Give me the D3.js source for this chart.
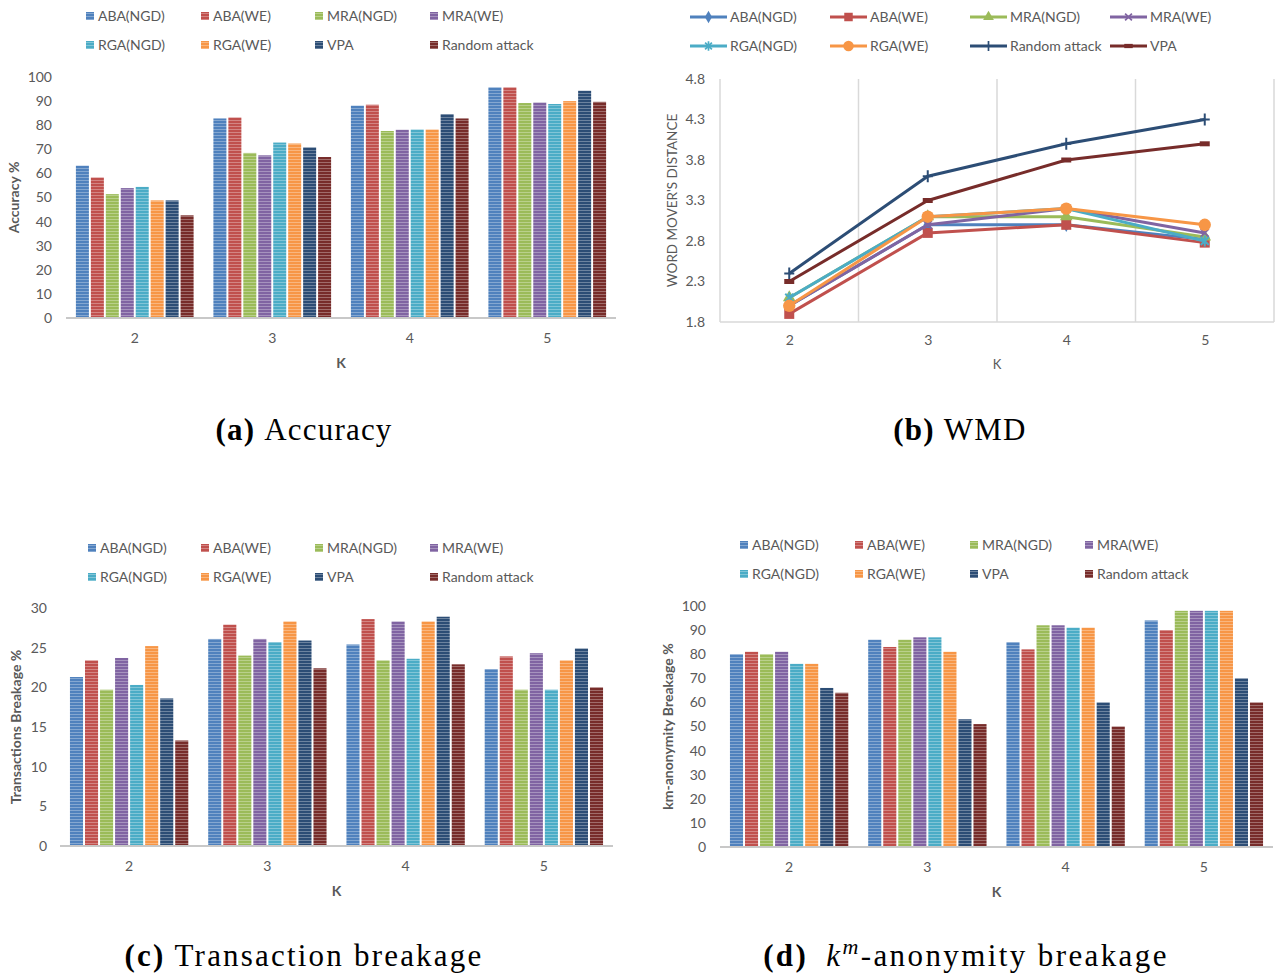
<!DOCTYPE html>
<html lang="en">
<head>
<meta charset="UTF-8">
<title>Attack evaluation over K</title>
<script src="https://d3js.org/d3.v7.min.js"></script>
<style>
  body { margin: 0; background: #fff; }
  svg { display: block; }
  text { font-family: Lato, "Open Sans", sans-serif; fill: #595959; }
  .tick-label { font-size: 14px; }
  .legend-label { font-size: 14px; }
  .axis-title { font-size: 14px; font-weight: bold; }
  .caption { font-family: "Liberation Serif", serif; fill: #000; font-size: 31px; letter-spacing: 1.2px; }
</style>
</head>
<body>
<svg id="chart" width="1277" height="975"></svg>
<script>
// ---- data ----
const kValues = ["2", "3", "4", "5"];
const barSeries = ["ABA(NGD)", "ABA(WE)", "MRA(NGD)", "MRA(WE)", "RGA(NGD)", "RGA(WE)", "VPA", "Random attack"];
const lineSeries = ["ABA(NGD)", "ABA(WE)", "MRA(NGD)", "MRA(WE)", "RGA(NGD)", "RGA(WE)", "Random attack", "VPA"];
const seriesColors = ["#4f81bd", "#c0504d", "#9bbb59", "#8064a2", "#4bacc6", "#f79646", "#2c4d75", "#772c2a"];

// one row per series (barSeries order), values for K = 2,3,4,5
const accuracy = [
  [63.2, 82.8, 88.1, 95.7],
  [58.3, 83.2, 88.5, 95.7],
  [51.4, 68.5, 77.6, 89.2],
  [53.9, 67.5, 78.1, 89.4],
  [54.4, 72.8, 78.2, 88.8],
  [48.8, 72.4, 78.2, 90.0],
  [48.8, 70.8, 84.6, 94.3],
  [42.6, 66.8, 82.8, 89.7]
];
const transactionBreakage = [
  [21.3, 26.1, 25.4, 22.3],
  [23.4, 27.9, 28.6, 23.9],
  [19.7, 24.0, 23.4, 19.7],
  [23.7, 26.1, 28.3, 24.3],
  [20.3, 25.7, 23.6, 19.7],
  [25.2, 28.3, 28.3, 23.4],
  [18.6, 25.9, 28.9, 24.9],
  [13.3, 22.4, 22.9, 20.0]
];
const kmBreakage = [
  [80, 86, 85, 94],
  [81, 83, 82, 90],
  [80, 86, 92, 98],
  [81, 87, 92, 98],
  [76, 87, 91, 98],
  [76, 81, 91, 98],
  [66, 53, 60, 70],
  [64, 51, 50, 60]
];
// one row per series (lineSeries order)
const wmd = [
  [2.0, 3.0, 3.0, 2.82],
  [1.9, 2.9, 3.0, 2.78],
  [2.1, 3.1, 3.1, 2.85],
  [2.0, 3.0, 3.2, 2.9],
  [2.1, 3.1, 3.2, 2.8],
  [2.0, 3.1, 3.2, 3.0],
  [2.4, 3.6, 4.0, 4.3],
  [2.3, 3.3, 3.8, 4.0]
];
const wmdTicks = [1.8, 2.3, 2.8, 3.3, 3.8, 4.3, 4.8];

const svg = d3.select("#chart");
const defs = svg.append("defs");

// striped fill like the original excel texture
seriesColors.forEach((c, i) => {
  const p = defs.append("pattern")
    .attr("id", "stripe" + i)
    .attr("patternUnits", "userSpaceOnUse")
    .attr("width", 4).attr("height", 3);
  p.append("rect").attr("width", 4).attr("height", 3).attr("fill", c);
  p.append("rect").attr("width", 4).attr("height", 1).attr("fill", "#fff").attr("opacity", 0.3);
});

function drawBarPanel(cfg) {
  const g = svg.append("g");
  const x0 = d3.scaleBand().domain(kValues).range([cfg.left, cfg.right])
    .paddingInner(0.144).paddingOuter(0.072);
  const x1 = d3.scaleBand().domain(barSeries).range([0, x0.bandwidth()]).paddingInner(0.13);
  const y = d3.scaleLinear().domain([0, cfg.max]).range([cfg.bottom, cfg.top]);

  barSeries.forEach((s, i) => {
    g.selectAll(null)
      .data(cfg.values[i])
      .join("rect")
      .attr("x", (d, j) => x0(kValues[j]) + x1(s))
      .attr("y", d => y(d))
      .attr("width", x1.bandwidth())
      .attr("height", d => y(0) - y(d))
      .attr("fill", `url(#stripe${i})`);
  });

  g.append("line")
    .attr("x1", cfg.left).attr("x2", cfg.right)
    .attr("y1", y(0)).attr("y2", y(0))
    .attr("stroke", "#c8c8c8").attr("stroke-width", 2);

  g.append("g")
    .attr("transform", `translate(${cfg.labelRight},0)`)
    .call(d3.axisLeft(y).tickValues(d3.range(0, cfg.max + 1, cfg.step)).tickSize(0).tickPadding(0))
    .call(a => a.select(".domain").remove())
    .selectAll("text").attr("class", "tick-label");

  g.append("g")
    .attr("transform", `translate(0,${y(0)})`)
    .call(d3.axisBottom(x0).tickSize(0).tickPadding(15))
    .call(a => a.select(".domain").remove())
    .selectAll("text").attr("class", "tick-label");

  g.append("text")
    .attr("class", "axis-title")
    .attr("x", (cfg.left + cfg.right) / 2)
    .attr("y", y(0) + 50)
    .attr("text-anchor", "middle")
    .text("K");

  g.append("text")
    .attr("class", "axis-title")
    .attr("transform", `translate(${cfg.titleX},${(cfg.top + cfg.bottom) / 2}) rotate(-90)`)
    .attr("text-anchor", "middle")
    .attr("dy", "0.35em")
    .text(cfg.title);

  // legend, 4 columns x 2 rows
  const leg = g.selectAll(".leg")
    .data(barSeries)
    .join("g")
    .attr("transform", (d, i) => `translate(${cfg.legendX[i % 4]},${cfg.legendY[Math.floor(i / 4)]})`);
  leg.append("rect")
    .attr("x", 0).attr("y", -4).attr("width", 8).attr("height", 8)
    .attr("fill", (d, i) => `url(#stripe${i})`);
  leg.append("text")
    .attr("class", "legend-label")
    .attr("x", 12).attr("dy", "0.36em")
    .text(d => d);
}

drawBarPanel({
  values: accuracy, max: 100, step: 10,
  left: 66, right: 616, top: 77, bottom: 318,
  labelRight: 52, titleX: 14, title: "Accuracy %",
  legendX: [86, 201, 315, 430], legendY: [16, 45]
});

drawBarPanel({
  values: transactionBreakage, max: 30, step: 5,
  left: 60, right: 613, top: 608, bottom: 846,
  labelRight: 47, titleX: 16, title: "Transactions Breakage %",
  legendX: [88, 201, 315, 430], legendY: [548, 577]
});

drawBarPanel({
  values: kmBreakage, max: 100, step: 10,
  left: 720, right: 1273, top: 606, bottom: 847,
  labelRight: 706, titleX: 668, title: "km-anonymity Breakage %",
  legendX: [740, 855, 970, 1085], legendY: [545, 574]
});

// ---- WMD line chart ----
const markerPaths = [
  { d: d3.symbol(d3.symbolDiamond, 60)(), fill: true },
  { d: d3.symbol(d3.symbolSquare, 100)(), fill: true },
  { d: d3.symbol(d3.symbolTriangle, 70)(), fill: true },
  { d: "M-4,-4L4,4M-4,4L4,-4", fill: false },
  { d: "M-4,-4L4,4M-4,4L4,-4M0,-5.5V5.5", fill: false },
  { d: d3.symbol(d3.symbolCircle, 120)(), fill: true },
  { d: "M-5,0H5M0,-6V6", fill: false },
  { d: "M-5,-2.5H5V2.5H-5Z", fill: true }
];

function addMarker(sel, i) {
  const m = markerPaths[i];
  sel.append("path")
    .attr("d", m.d)
    .attr("fill", m.fill ? seriesColors[i] : "none")
    .attr("stroke", seriesColors[i])
    .attr("stroke-width", m.fill ? 0 : 2);
}

(function drawLinePanel() {
  const g = svg.append("g");
  const left = 720, right = 1274, top = 79, bottom = 322;
  const xb = d3.scaleBand().domain(kValues).range([left, right]);
  const x = d3.scalePoint().domain(kValues).range([left, right]).padding(0.5);
  const y = d3.scaleLinear().domain([1.8, 4.8]).range([bottom, top]);

  // vertical gridlines at category boundaries
  const bounds = [left].concat(kValues.map(k => xb(k) + xb.bandwidth()));
  g.selectAll(".grid")
    .data(bounds)
    .join("line")
    .attr("x1", d => d).attr("x2", d => d)
    .attr("y1", top).attr("y2", bottom)
    .attr("stroke", "#d9d9d9").attr("stroke-width", 1.5);

  g.append("line")
    .attr("x1", left).attr("x2", right)
    .attr("y1", bottom).attr("y2", bottom)
    .attr("stroke", "#d9d9d9").attr("stroke-width", 1.5);

  g.append("g")
    .attr("transform", "translate(705,0)")
    .call(d3.axisLeft(y).tickValues(wmdTicks).tickFormat(d3.format(".1f")).tickSize(0).tickPadding(0))
    .call(a => a.select(".domain").remove())
    .selectAll("text").attr("class", "tick-label");

  g.append("g")
    .attr("transform", `translate(0,${bottom})`)
    .call(d3.axisBottom(x).tickSize(0).tickPadding(13))
    .call(a => a.select(".domain").remove())
    .selectAll("text").attr("class", "tick-label");

  g.append("text")
    .attr("x", (left + right) / 2).attr("y", bottom + 47)
    .attr("text-anchor", "middle")
    .style("font-size", "13px")
    .text("K");

  g.append("text")
    .attr("transform", `translate(672,${(top + bottom) / 2}) rotate(-90)`)
    .attr("text-anchor", "middle")
    .attr("dy", "0.35em")
    .style("font-size", "13.5px")
    .text("WORD MOVER'S DISTANCE");

  const line = d3.line().x((d, j) => x(kValues[j])).y(d => y(d));

  lineSeries.forEach((s, i) => {
    const sg = g.append("g");
    sg.append("path")
      .attr("d", line(wmd[i]))
      .attr("fill", "none")
      .attr("stroke", seriesColors[i])
      .attr("stroke-width", 3)
      .attr("stroke-linejoin", "round");
    sg.selectAll(".pt")
      .data(wmd[i])
      .join("g")
      .attr("transform", (d, j) => `translate(${x(kValues[j])},${y(d)})`)
      .each(function () { addMarker(d3.select(this), i); });
  });

  // legend
  const legX = [[690, 830, 970, 1110], [690, 830, 970, 1110]];
  const legY = [17, 46];
  lineSeries.forEach((s, i) => {
    const r = Math.floor(i / 4), c = i % 4;
    const lg = g.append("g").attr("transform", `translate(${legX[r][c]},${legY[r]})`);
    lg.append("line")
      .attr("x1", 0).attr("x2", 37)
      .attr("stroke", seriesColors[i]).attr("stroke-width", 3);
    addMarker(lg.append("g").attr("transform", "translate(18.5,0) scale(0.85)"), i);
    lg.append("text")
      .attr("class", "legend-label")
      .attr("x", 40).attr("dy", "0.36em")
      .text(s);
  });
})();

// ---- captions ----
function caption(cx, cy, spacing, label, parts) {
  const t = svg.append("text")
    .attr("class", "caption")
    .attr("x", cx).attr("y", cy)
    .attr("text-anchor", "middle")
    .style("letter-spacing", spacing + "px");
  t.append("tspan").attr("font-weight", "bold").text(label);
  parts(t);
}

caption(304, 440, 1.2, "(a)", t => t.append("tspan").attr("dx", 9).text("Accuracy"));
caption(960, 440, 1.2, "(b)", t => t.append("tspan").attr("dx", 9).text("WMD"));
caption(304, 966, 2.2, "(c)", t => t.append("tspan").attr("dx", 9).text("Transaction breakage"));
caption(966, 966, 2.4, "(d)", t => {
  t.append("tspan").attr("dx", 18).attr("font-style", "italic").text("k");
  t.append("tspan").attr("dy", -12).attr("font-size", 22).attr("font-style", "italic").text("m");
  t.append("tspan").attr("dy", 12).text("-anonymity breakage");
});
</script>
</body>
</html>
